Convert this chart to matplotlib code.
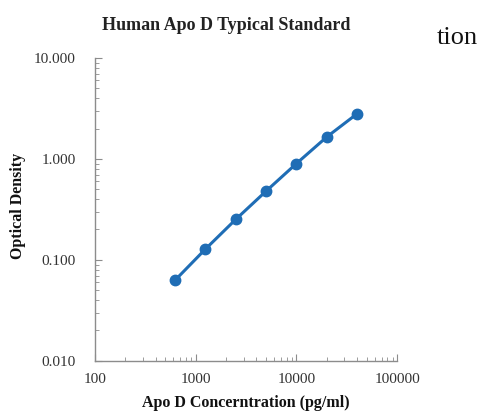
import matplotlib.pyplot as plt
from matplotlib.ticker import FixedLocator, LogLocator, NullFormatter, FixedFormatter

# standard curve data
conc = [625, 1250, 2500, 5000, 10000, 20000, 40000]        # pg/ml
od = [0.063, 0.128, 0.252, 0.48, 0.90, 1.65, 2.80]          # optical density

x_ticks = [100, 1000, 10000, 100000]
x_labels = ['100', '1000', '10000', '100000']
y_ticks = [0.01, 0.1, 1, 10]
y_labels = ['0.010', '0.100', '1.000', '10.000']

plt.rcParams['font.family'] = ['Liberation Serif', 'DejaVu Serif']

fig = plt.figure(figsize=(4.82, 4.11), dpi=100)
ax = fig.add_axes([0.197, 0.122, 0.627, 0.737])

ax.plot(conc, od, color='#1f6db5', lw=2.2, marker='o', ms=7.5)

ax.set_xscale('log')
ax.set_yscale('log')
ax.set_xlim(100, 100000)
ax.set_ylim(0.01, 10)

ax.xaxis.set_major_locator(FixedLocator(x_ticks))
ax.xaxis.set_major_formatter(FixedFormatter(x_labels))
ax.yaxis.set_major_locator(FixedLocator(y_ticks))
ax.yaxis.set_major_formatter(FixedFormatter(y_labels))
ax.xaxis.set_minor_locator(LogLocator(base=10, subs=range(2, 10)))
ax.yaxis.set_minor_locator(LogLocator(base=10, subs=range(2, 10)))
ax.xaxis.set_minor_formatter(NullFormatter())
ax.yaxis.set_minor_formatter(NullFormatter())

for s in ['top', 'right']:
    ax.spines[s].set_visible(False)
for s in ['left', 'bottom']:
    ax.spines[s].set_color('#8c8c8c')
    ax.spines[s].set_linewidth(1.0)

ax.tick_params(which='both', direction='in', color='#8c8c8c', labelsize=11, labelcolor='#333333')
ax.tick_params(which='major', length=5)
ax.tick_params(axis='y', which='major', pad=14)
ax.tick_params(axis='x', which='major', pad=9)
ax.tick_params(which='minor', length=3)

# title sits a bit left of the axes centre in the original
fig.text(0.469, 0.937, 'Human Apo D Typical Standard', fontsize=13, fontweight='bold',
         ha='center', va='center', color='#222222')
fig.text(0.51, 0.019, 'Apo D Concerntration (pg/ml)', fontsize=11.5, fontweight='bold',
         ha='center', va='center', color='#111111')
fig.text(0.037, 0.50, 'Optical Density', fontsize=11.5, fontweight='bold', rotation=90,
         ha='center', va='center', color='#111111')

fig.text(0.905, 0.907, 'tion', fontsize=19, ha='left', va='center', color='#111111')

fig.savefig('out.png', dpi=100)
